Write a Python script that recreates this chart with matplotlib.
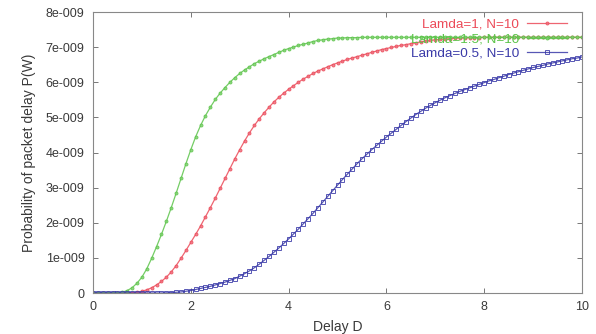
import matplotlib
matplotlib.use("Agg")
import matplotlib.pyplot as plt
import numpy as np

plt.rcParams['font.family'] = ['Liberation Sans', 'DejaVu Sans']

# delay axis, 0 to 10 in steps of 0.1
delay = np.round(np.arange(0, 10.05, 0.1), 1)

# probability values in units of 1e-9
p_lamda1 = [0, 0, 0, 0, 0, 0, 0, 0.005, 0.01, 0.02,
            0.05, 0.09, 0.15, 0.23, 0.33, 0.45, 0.60, 0.78, 0.99, 1.21,
            1.44, 1.67, 1.91, 2.17, 2.43, 2.70, 2.98, 3.26, 3.54, 3.82,
            4.08, 4.33, 4.56, 4.77, 4.96, 5.13, 5.29, 5.44, 5.57, 5.69,
            5.80, 5.90, 6.00, 6.09, 6.17, 6.25, 6.32, 6.38, 6.44, 6.50,
            6.55, 6.60, 6.65, 6.69, 6.73, 6.77, 6.81, 6.85, 6.89, 6.93,
            6.96, 6.99, 7.02, 7.05, 7.07, 7.10, 7.12, 7.15, 7.17, 7.19,
            7.21, 7.22, 7.23, 7.24, 7.25, 7.26, 7.26, 7.27, 7.27, 7.27,
            7.28, 7.28, 7.28, 7.28, 7.28, 7.28, 7.28, 7.28, 7.28, 7.28,
            7.28, 7.28, 7.28, 7.28, 7.28, 7.28, 7.28, 7.28, 7.28, 7.28,
            7.28]

p_lamda15 = [0, 0, 0, 0, 0, 0.008, 0.02, 0.07, 0.15, 0.28,
             0.45, 0.69, 0.99, 1.32, 1.67, 2.04, 2.43, 2.84, 3.26, 3.68,
             4.08, 4.45, 4.77, 5.05, 5.29, 5.51, 5.69, 5.85, 6.00, 6.13,
             6.25, 6.35, 6.44, 6.53, 6.60, 6.67, 6.73, 6.79, 6.85, 6.91,
             6.96, 7.00, 7.05, 7.08, 7.12, 7.16, 7.19, 7.21, 7.23, 7.24,
             7.26, 7.26, 7.27, 7.27, 7.27, 7.28, 7.28, 7.28, 7.28, 7.28,
             7.28, 7.28, 7.28, 7.28, 7.28, 7.28, 7.28, 7.28, 7.28, 7.28,
             7.28, 7.28, 7.28, 7.28, 7.28, 7.28, 7.28, 7.28, 7.28, 7.28,
             7.28, 7.28, 7.28, 7.28, 7.28, 7.28, 7.28, 7.28, 7.28, 7.28,
             7.28, 7.28, 7.28, 7.28, 7.28, 7.28, 7.28, 7.28, 7.28, 7.28,
             7.28]

p_lamda05 = [0, 0, 0, 0, 0, 0, 0, 0, 0, 0,
             0, 0, 0, 0, 0, 0.005, 0.01, 0.02, 0.03, 0.05,
             0.07, 0.10, 0.13, 0.16, 0.19, 0.23, 0.27, 0.31, 0.36, 0.41,
             0.48, 0.55, 0.63, 0.72, 0.82, 0.93, 1.04, 1.16, 1.28, 1.41,
             1.54, 1.68, 1.82, 1.97, 2.12, 2.27, 2.43, 2.59, 2.75, 2.91,
             3.07, 3.23, 3.38, 3.53, 3.68, 3.82, 3.95, 4.08, 4.20, 4.32,
             4.44, 4.55, 4.66, 4.77, 4.88, 4.98, 5.08, 5.17, 5.26, 5.34,
             5.42, 5.49, 5.56, 5.62, 5.68, 5.74, 5.79, 5.84, 5.89, 5.94,
             5.99, 6.04, 6.08, 6.13, 6.17, 6.22, 6.26, 6.30, 6.34, 6.38,
             6.42, 6.45, 6.48, 6.52, 6.55, 6.58, 6.61, 6.64, 6.67, 6.69,
             6.72]

labels = ["Lamda=1, N=10", "Lamda=1.5, N=10", "Lamda=0.5, N=10"]
yticks = [0, 1, 2, 3, 4, 5, 6, 7, 8]
ytick_labels = ["0", "1e-009", "2e-009", "3e-009", "4e-009",
                "5e-009", "6e-009", "7e-009", "8e-009"]
xticks = [0, 2, 4, 6, 8, 10]

txt = "#3a3a3a"
fig = plt.figure(figsize=(5.96, 3.34), dpi=100)
ax = fig.add_axes([93 / 596, 1 - 293 / 334, 489 / 596, 281 / 334])

scale = 1e-9
ax.plot(delay, np.array(p_lamda1) * scale, color="#ec4a58", lw=0.9,
        marker="o", ms=2.2, mew=0.6, mfc="#ee7080", alpha=0.85, label=labels[0])
ax.plot(delay, np.array(p_lamda15) * scale, color="#5cc44a", lw=0.9,
        marker="o", ms=2.2, mew=0.6, mfc="#80d070", alpha=0.85, label=labels[1])
ax.plot(delay, np.array(p_lamda05) * scale, color="#3a3aa8", lw=0.9,
        marker="s", ms=3.0, mew=0.7, mfc="none", alpha=0.85, label=labels[2])

ax.set_xlim(0, 10)
ax.set_ylim(0, 8e-9)
ax.set_xticks(xticks)
ax.set_xticklabels([str(v) for v in xticks])
ax.set_yticks([v * scale for v in yticks])
ax.set_yticklabels(ytick_labels)
ax.tick_params(direction="in", length=3.5, width=0.7, color="#777777",
               top=True, right=True, labelsize=9, labelcolor=txt, pad=6)
for s in ax.spines.values():
    s.set_color("#888888")
    s.set_linewidth(0.8)

ax.set_xlabel("Delay D", fontsize=10, color=txt, labelpad=5)
ax.set_ylabel("Probability of packet delay P(W)", fontsize=10, color=txt, labelpad=7)

leg = ax.legend(loc="upper right", bbox_to_anchor=(0.995, 1.02), frameon=False,
                markerfirst=False, fontsize=9.7, handlelength=3.0,
                handletextpad=0.6, labelspacing=0.15, labelcolor="linecolor")

fig.savefig("out.png", dpi=100)
